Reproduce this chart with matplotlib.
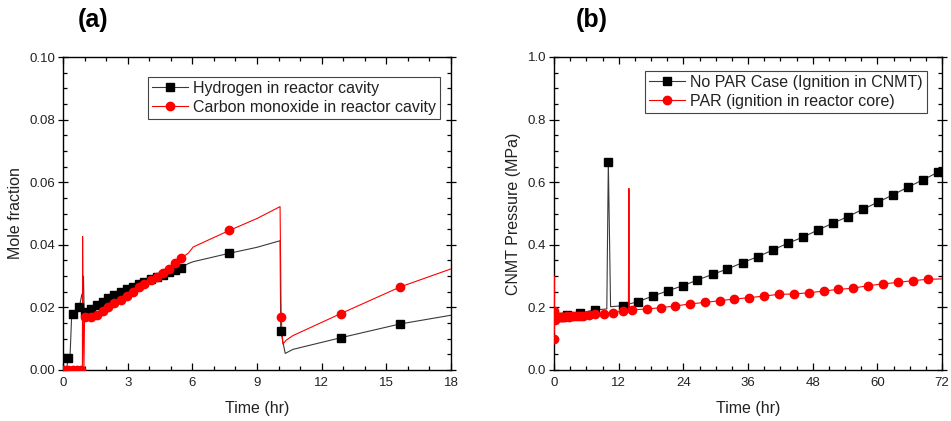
import numpy as np
import matplotlib
matplotlib.use('Agg')
import matplotlib.pyplot as plt
from matplotlib.lines import Line2D
from matplotlib.ticker import MultipleLocator

plt.rcParams['font.family'] = ['Liberation Sans', 'DejaVu Sans']

# ---- panel (a): mole fraction in reactor cavity ----
h2_mark_t = [0.25, 0.48, 0.76, 1.02, 1.28, 1.56, 1.84, 2.10, 2.38, 2.67, 2.95, 3.23, 3.51,
             3.78, 4.06, 4.34, 4.62, 4.90, 5.18, 5.46, 7.72, 10.10, 12.88, 15.63]
h2_mark_v = [0.0037, 0.0179, 0.0202, 0.0186, 0.0194, 0.0208, 0.0218, 0.0229, 0.0240, 0.0250,
             0.0258, 0.0266, 0.0275, 0.0282, 0.0290, 0.0298, 0.0303, 0.0312, 0.0319, 0.0326,
             0.0373, 0.0126, 0.0103, 0.0147]
# extra line-only points
h2_line_t = [0.0, 0.15, 0.33, 0.40, 0.87, 0.93, 0.95, 0.98, 5.81, 6.04, 9.0, 10.07,
             10.2, 10.31, 10.67, 18.0]
h2_line_v = [0.0, 0.0, 0.0050, 0.0170, 0.0240, 0.0250, 0.0300, 0.0190, 0.0340, 0.0346,
             0.0392, 0.0413, 0.0090, 0.0053, 0.0066, 0.0175]

co_mark_t = [0.05, 0.25, 0.45, 0.65, 0.85, 1.02, 1.28, 1.56, 1.84, 2.10, 2.38, 2.67, 2.95,
             3.23, 3.51, 3.78, 4.06, 4.34, 4.62, 4.90, 5.18, 5.46, 7.72, 10.12, 12.88, 15.63]
co_mark_v = [0.0, 0.0, 0.0, 0.0, 0.0, 0.0168, 0.0168, 0.0176, 0.0187, 0.0201, 0.0214, 0.0224,
             0.0235, 0.0250, 0.0264, 0.0274, 0.0288, 0.0296, 0.0309, 0.0324, 0.0341, 0.0357,
             0.0446, 0.0168, 0.0180, 0.0265]
co_line_t = [0.0, 0.90, 0.91, 0.93, 0.97, 1.00, 5.81, 6.04, 9.0, 10.07, 10.2, 10.35, 10.67, 18.0]
co_line_v = [0.0, 0.0, 0.0426, 0.0200, 0.0, 0.0168, 0.0373, 0.0393, 0.0484, 0.0522,
             0.0083, 0.0095, 0.0110, 0.0323]

# ---- panel (b): containment pressure ----
nopar_mark_t = [0.8, 2.5, 4.8, 7.6, 10.08, 12.74, 15.53, 18.31, 21.1, 23.88, 26.6, 29.44,
                32.16, 35.0, 37.8, 40.58, 43.36, 46.15, 48.93, 51.71, 54.5, 57.28, 60.06,
                62.85, 65.63, 68.42, 71.2]
nopar_mark_p = [0.170, 0.175, 0.182, 0.192, 0.6655, 0.2055, 0.218, 0.236, 0.253, 0.269,
                0.2875, 0.3056, 0.3227, 0.343, 0.362, 0.383, 0.405, 0.424, 0.447, 0.4686,
                0.490, 0.513, 0.536, 0.559, 0.584, 0.607, 0.6315]
nopar_line_t = [0.0, 0.2, 9.8, 10.5, 72.0]
nopar_line_p = [0.165, 0.168, 0.195, 0.202, 0.638]

par_mark_t = [0.0, 0.05, 0.1, 0.2, 0.5, 0.8, 1.1, 1.4, 1.7, 2.0, 2.4, 2.8, 3.3, 3.8, 4.3,
              4.8, 5.32, 6.56, 7.6, 9.2, 10.9, 12.74, 14.5, 17.2, 19.8, 22.45, 25.24, 28.0,
              30.8, 33.45, 36.24, 39.0, 41.8, 44.6, 47.4, 50.16, 52.77, 55.4, 58.2, 61.0,
              63.78, 66.56, 69.34]
par_mark_p = [0.100, 0.190, 0.160, 0.172, 0.168, 0.170, 0.168, 0.169, 0.170, 0.170, 0.171,
              0.170, 0.171, 0.172, 0.172, 0.172, 0.1725, 0.176, 0.178, 0.180, 0.183,
              0.1885, 0.192, 0.195, 0.199, 0.2045, 0.211, 0.216, 0.2215, 0.2268, 0.231,
              0.2364, 0.2418, 0.2428, 0.247, 0.2524, 0.2578, 0.261, 0.2694, 0.2748, 0.280,
              0.2853, 0.2898]
par_line_t = [0.02, 0.03, 0.07, 0.15, 13.8, 13.9, 14.0, 72.0]
par_line_p = [0.300, 0.120, 0.200, 0.150, 0.190, 0.580, 0.191, 0.291]


def merge(t1, v1, t2, v2):
    t = np.array(t1 + t2)
    v = np.array(v1 + v2)
    order = np.argsort(t, kind='stable')
    return t[order], v[order]


BLACK_LINE = '#3a3a3a'
RED = '#ff0000'
TXT = '#222222'

fig = plt.figure(figsize=(9.51, 4.21), dpi=100)
ax1 = fig.add_axes([63 / 951, 51 / 421, 388 / 951, 313 / 421])
ax2 = fig.add_axes([554 / 951, 51 / 421, 388 / 951, 313 / 421])


def style_axes(ax):
    for s in ax.spines.values():
        s.set_linewidth(1.0)
        s.set_color('black')
    ax.tick_params(which='both', direction='in', top=True, right=True,
                   labelsize=9.5, labelcolor=TXT, width=0.9)
    ax.tick_params(which='major', length=5)
    ax.tick_params(which='minor', length=3)
    ax.tick_params(axis='y', which='major', direction='inout', length=7, pad=2)
    ax.tick_params(axis='x', which='major', pad=5)


# panel (a)
t, v = merge(h2_mark_t, h2_mark_v, h2_line_t, h2_line_v)
ax1.plot(t, v, color=BLACK_LINE, lw=0.8, zorder=2)
t, v = merge(co_mark_t, co_mark_v, co_line_t, co_line_v)
ax1.plot(t, v, color=RED, lw=0.8, zorder=3)
ax1.plot(h2_mark_t, h2_mark_v, ls='none', marker='s', ms=5.5, color='black', zorder=4)
ax1.plot(co_mark_t, co_mark_v, ls='none', marker='o', ms=6, color=RED, zorder=5)
ax1.set_xlim(0, 18)
ax1.set_ylim(0, 0.10)
ax1.xaxis.set_major_locator(MultipleLocator(3))
ax1.xaxis.set_minor_locator(MultipleLocator(1))
ax1.yaxis.set_major_locator(MultipleLocator(0.02))
ax1.yaxis.set_minor_locator(MultipleLocator(0.005))
ax1.yaxis.set_major_formatter(lambda x, pos: f'{x:.2f}')
ax1.set_xlabel('Time (hr)', fontsize=11.5, color=TXT, labelpad=9)
ax1.set_ylabel('Mole fraction', fontsize=11.5, color=TXT, labelpad=5)
style_axes(ax1)

h_a = [Line2D([], [], color=BLACK_LINE, lw=0.8, marker='s', ms=5.5, mfc='black', mec='black'),
       Line2D([], [], color=RED, lw=0.8, marker='o', ms=6, mfc=RED, mec=RED)]
leg = ax1.legend(h_a, ['Hydrogen in reactor cavity', 'Carbon monoxide in reactor cavity'],
                 loc='upper right', bbox_to_anchor=(0.972, 0.936), borderaxespad=0,
                 fontsize=11.5, fancybox=False, framealpha=1, edgecolor='#444444',
                 handlelength=2.3, handletextpad=0.3, labelspacing=0.25, borderpad=0.25)
leg.get_frame().set_linewidth(0.8)
for tx in leg.get_texts():
    tx.set_color(TXT)

# panel (b)
t, p = merge(nopar_mark_t, nopar_mark_p, nopar_line_t, nopar_line_p)
ax2.plot(t, p, color=BLACK_LINE, lw=0.8, zorder=2)
t, p = merge(par_mark_t, par_mark_p, par_line_t, par_line_p)
ax2.plot(t, p, color=RED, lw=0.8, zorder=3)
ax2.plot(nopar_mark_t, nopar_mark_p, ls='none', marker='s', ms=5.5, color='black', zorder=4)
ax2.plot(par_mark_t, par_mark_p, ls='none', marker='o', ms=6, color=RED, zorder=5)
ax2.set_xlim(0, 72)
ax2.set_ylim(0, 1.0)
ax2.xaxis.set_major_locator(MultipleLocator(12))
ax2.xaxis.set_minor_locator(MultipleLocator(3))
ax2.yaxis.set_major_locator(MultipleLocator(0.2))
ax2.yaxis.set_minor_locator(MultipleLocator(0.05))
ax2.yaxis.set_major_formatter(lambda x, pos: f'{x:.1f}')
ax2.set_xlabel('Time (hr)', fontsize=11.5, color=TXT, labelpad=9)
ax2.set_ylabel('CNMT Pressure (MPa)', fontsize=11.5, color=TXT, labelpad=5)
style_axes(ax2)

h_b = [Line2D([], [], color=BLACK_LINE, lw=0.8, marker='s', ms=5.5, mfc='black', mec='black'),
       Line2D([], [], color=RED, lw=0.8, marker='o', ms=6, mfc=RED, mec=RED)]
leg = ax2.legend(h_b, ['No PAR Case (Ignition in CNMT)', 'PAR (ignition in reactor core)'],
                 loc='upper right', bbox_to_anchor=(0.961, 0.955), borderaxespad=0,
                 fontsize=11.5, fancybox=False, framealpha=1, edgecolor='#444444',
                 handlelength=2.3, handletextpad=0.3, labelspacing=0.25, borderpad=0.25)
leg.get_frame().set_linewidth(0.8)
for tx in leg.get_texts():
    tx.set_color(TXT)

# panel letters
fig.text(93 / 951, 1 - 20 / 421, '(a)', ha='center', va='center', fontsize=18,
         fontweight='bold')
fig.text(592 / 951, 1 - 20 / 421, '(b)', ha='center', va='center', fontsize=18,
         fontweight='bold')

fig.savefig('out.png', dpi=100)
